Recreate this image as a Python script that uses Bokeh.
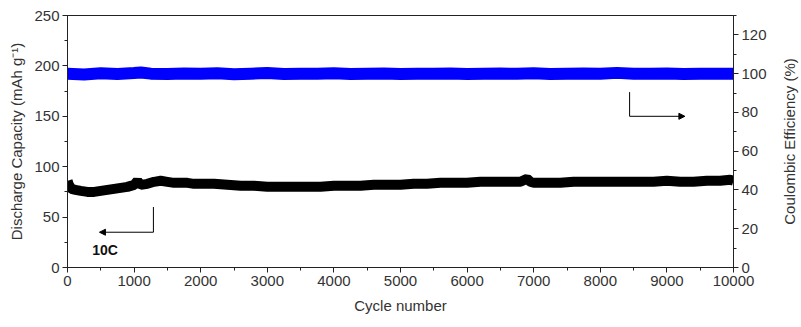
import math
from bokeh.plotting import figure
from bokeh.models import Range1d, LinearAxis, SingleIntervalTicker, Arrow, NormalHead, Label
from bokeh.embed import file_html
from bokeh.resources import INLINE

# ---- data ----
dc_cycles = [1, 20, 60, 120, 200, 300, 400, 500, 600, 700, 800, 900, 1000, 1050, 1070, 1100,
             1200, 1300, 1400, 1500, 1600, 1700, 1800, 1900, 2000, 2200, 2400, 2600, 2800, 3000,
             3200, 3400, 3600, 3800, 4000, 4200, 4400, 4600, 4800, 5000, 5200, 5400, 5600, 5800,
             6000, 6200, 6400, 6600, 6800, 6900, 6950, 7000, 7200, 7400, 7600, 7800, 8000, 8200,
             8400, 8600, 8800, 9000, 9200, 9400, 9600, 9800, 9950, 10000]
dc_values = [86, 82, 78, 77, 76, 75, 75, 76, 77, 78, 79, 80, 82, 86, 84, 82,
             83, 85, 86, 85, 84, 84, 84, 83, 83, 83, 82, 81, 81, 80,
             80, 80, 80, 80, 81, 81, 81, 82, 82, 82, 83, 83, 84, 84,
             84, 85, 85, 85, 85, 88, 85, 84, 84, 84, 85, 85, 85, 85,
             85, 85, 85, 86, 85, 85, 86, 86, 87, 86]

ce_cycles = [1, 250, 500, 750, 1000, 1100, 1250, 1500, 1750, 2000, 2250, 2500, 2750, 3000, 3250,
             3500, 3750, 4000, 4250, 4500, 4750, 5000, 5250, 5500, 5750, 6000, 6250, 6500,
             6750, 7000, 7250, 7500, 7750, 8000, 8250, 8500, 8750, 9000, 9250, 9500, 9750, 10000]
ce_values = [100.0, 99.6, 100.2, 99.8, 100.3, 100.6, 100.0, 99.8, 100.1, 99.9, 100.2, 99.7, 100.0, 100.3, 99.8,
             100.0, 99.9, 100.2, 99.8, 100.0, 100.1, 99.8, 100.0, 99.9, 100.1, 99.8, 100.0, 100.1,
             99.9, 100.2, 99.8, 100.0, 100.1, 99.9, 100.4, 100.0, 99.9, 100.1, 99.8, 100.0, 100.0, 100.0]

x_ticks_interval = 1000
left_range = (0, 250)
right_range = (0, 130)
x_range = (0, 10000)

FONT = "Liberation Sans"
W, H = 801, 327

p = figure(width=W, height=H, output_backend="svg", toolbar_location=None,
           x_range=Range1d(*x_range), y_range=Range1d(*left_range),
           min_border_left=67, min_border_right=68, min_border_top=15, min_border_bottom=60)
p.extra_y_ranges = {"ce": Range1d(*right_range)}

p.xgrid.visible = False
p.ygrid.visible = False
p.outline_line_color = "#222222"
p.outline_line_width = 1

def style_axis(ax):
    ax.axis_line_color = "#222222"
    ax.major_tick_line_color = "#222222"
    ax.minor_tick_line_color = "#222222"
    ax.major_tick_out = 5
    ax.major_tick_in = 0
    ax.minor_tick_out = 3
    ax.minor_tick_in = 0
    ax.major_label_text_font = FONT
    ax.major_label_text_font_size = "15px"
    ax.major_label_text_color = "#333333"
    ax.major_label_standoff = 3
    ax.axis_label_text_font = FONT
    ax.axis_label_text_font_size = "15px"
    ax.axis_label_text_font_style = "normal"
    ax.axis_label_text_color = "#333333"

p.xaxis.ticker = SingleIntervalTicker(interval=x_ticks_interval, num_minor_ticks=2)
p.xaxis.axis_label = "Cycle number"
p.yaxis.ticker = SingleIntervalTicker(interval=50, num_minor_ticks=2)
p.yaxis.axis_label = "Discharge Capacity (mAh g\u207b\u00b9)"
style_axis(p.xaxis[0])
style_axis(p.yaxis[0])
p.xaxis.axis_label_standoff = 8
p.yaxis.axis_label_standoff = 6

rax = LinearAxis(y_range_name="ce", ticker=SingleIntervalTicker(interval=20, num_minor_ticks=2))
style_axis(rax)
p.add_layout(rax, "right")

# right-axis title, reading bottom-to-top as in the reference; placed in the side panel
# (so it is not clipped to the frame), positioned in data units just right of the frame
p.add_layout(Label(x=10840, y=125, x_units="data", y_units="data",
                   text="Coulombic Efficiency (%)", angle=math.pi / 2,
                   text_align="center", text_baseline="middle",
                   text_font=FONT, text_font_size="15px", text_color="#333333"), "right")

# series
p.line(ce_cycles, ce_values, y_range_name="ce", line_color="#0000ff", line_width=12)
p.line(dc_cycles, dc_values, line_color="#000000", line_width=10)

# annotations (left-axis units)
p.segment(x0=[1290], y0=[60], x1=[1290], y1=[35], line_color="#000000", line_width=1)
p.add_layout(Arrow(x_start=1290, y_start=35, x_end=480, y_end=35,
                   end=NormalHead(size=6, fill_color="black", line_color="black"),
                   line_color="black", line_width=1))
p.add_layout(Label(x=370, y=17, text="10C", text_font=FONT, text_font_size="14px",
                   text_font_style="bold", text_color="#111111", text_baseline="middle"))

p.segment(x0=[8440], y0=[174], x1=[8440], y1=[150], line_color="#000000", line_width=1)
p.add_layout(Arrow(x_start=8440, y_start=150, x_end=9270, y_end=150,
                   end=NormalHead(size=6, fill_color="black", line_color="black"),
                   line_color="black", line_width=1))

open("out.html", "w").write(file_html(p, INLINE))
